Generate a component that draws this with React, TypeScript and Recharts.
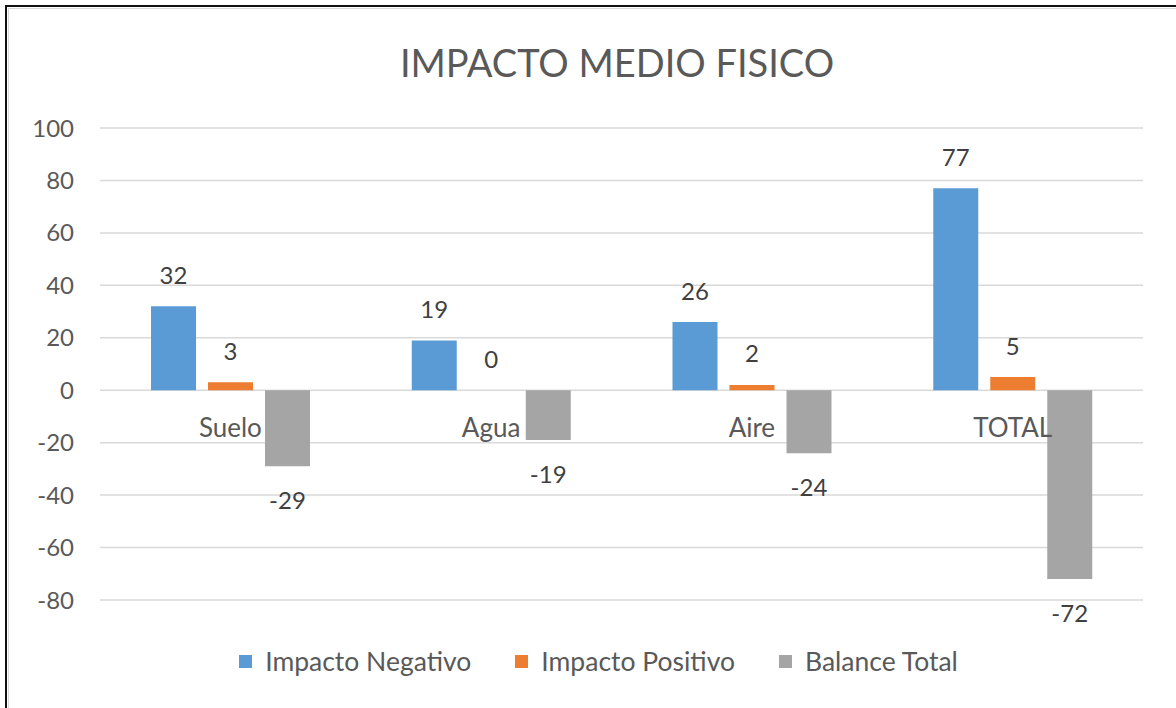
import { BarChart, Bar, XAxis, YAxis, CartesianGrid, Legend, LabelList } from 'recharts';

const categories = ['Suelo', 'Agua', 'Aire', 'TOTAL'];
const impactoNegativo = [32, 19, 26, 77];
const impactoPositivo = [3, 0, 2, 5];
const balanceTotal = [-29, -19, -24, -72];
const yTicks = [-80, -60, -40, -20, 0, 20, 40, 60, 80, 100];
const seriesNames = ['Impacto Negativo', 'Impacto Positivo', 'Balance Total'];

const chartData = categories.map((name, i) => ({
  name,
  negativo: impactoNegativo[i],
  positivo: impactoPositivo[i],
  balance: balanceTotal[i],
}));

const FONT = 'Lato, "Open Sans", sans-serif';
const W = 1176;
const H = 708;
const PLOT_TOP = 128;
const PLOT_BOTTOM = 600;
const Y_MIN = -80;
const Y_MAX = 100;
const ZERO_Y = PLOT_TOP + ((PLOT_BOTTOM - PLOT_TOP) * Y_MAX) / (Y_MAX - Y_MIN);

function ValueLabel(props: any) {
  const { x, y, width, height, value } = props;
  const top = Math.min(Number(y), Number(y) + Number(height));
  const bottom = Math.max(Number(y), Number(y) + Number(height));
  const cx = Number(x) + Number(width) / 2;
  const cy = value < 0 ? bottom + 33 : top - 32;
  return (
    <text x={cx} y={cy} textAnchor="middle" dominantBaseline="central" fill="#404040" fontSize={24} fontFamily={FONT}>
      {value}
    </text>
  );
}

function CategoryTick(props: any) {
  const { x, payload } = props;
  return (
    <text x={x} y={ZERO_Y + 37} textAnchor="middle" dominantBaseline="central" fill="#595959" fontSize={26} fontFamily={FONT}>
      {payload.value}
    </text>
  );
}

function LegendContent(props: any) {
  const items = [...(props.payload || [])].sort(
    (a: any, b: any) => seriesNames.indexOf(a.value) - seriesNames.indexOf(b.value)
  );
  return (
    <div style={{ display: 'flex', justifyContent: 'center', paddingLeft: 21, fontFamily: FONT, fontSize: 26.5, color: '#595959' }}>
      {items.map((item: any, i: number) => (
        <div key={item.value} style={{ display: 'flex', alignItems: 'center', marginRight: i < items.length - 1 ? 44 : 0 }}>
          <span style={{ display: 'inline-block', width: 13, height: 13, background: item.color, marginRight: 13 }} />
          <span>{item.value}</span>
        </div>
      ))}
    </div>
  );
}

export default function App() {
  return (
    <div style={{ position: 'absolute', left: 0, top: 0, width: W, height: H, overflow: 'hidden', background: '#fff' }}>
      <div style={{ position: 'absolute', left: 5, top: 5, width: W + 40, height: H + 40, border: '2px solid #111', boxSizing: 'border-box' }} />
      <div style={{ position: 'absolute', left: 8, top: 8, width: W + 40, height: H + 40, border: '1px solid #d9d9d9', boxSizing: 'border-box' }} />
      <div
        style={{
          position: 'absolute',
          left: 617,
          top: 37,
          transform: 'translateX(-50%)',
          whiteSpace: 'nowrap',
          fontFamily: FONT,
          fontSize: 38,
          color: '#595959',
          lineHeight: '50px',
        }}
      >
        IMPACTO MEDIO FISICO
      </div>
      <div style={{ position: 'absolute', left: 0, top: 0 }}>
        <BarChart
          width={W}
          height={H}
          data={chartData}
          margin={{ top: PLOT_TOP, right: 33, bottom: 77, left: 0 }}
          barSize={45}
          barGap={12}
        >
          <CartesianGrid vertical={false} stroke="#d9d9d9" strokeWidth={1.5} />
          <YAxis
            width={100}
            domain={[Y_MIN, Y_MAX]}
            ticks={yTicks}
            axisLine={false}
            tickLine={false}
            tickMargin={20}
            tick={{ fill: '#595959', fontSize: 24, fontFamily: FONT }}
          />
          <Bar dataKey="negativo" name={seriesNames[0]} fill="#5b9bd5" isAnimationActive={false}>
            <LabelList dataKey="negativo" content={ValueLabel} />
          </Bar>
          <Bar dataKey="positivo" name={seriesNames[1]} fill="#ed7d31" minPointSize={0.01} isAnimationActive={false}>
            <LabelList dataKey="positivo" content={ValueLabel} />
          </Bar>
          <Bar dataKey="balance" name={seriesNames[2]} fill="#a5a5a5" isAnimationActive={false}>
            <LabelList dataKey="balance" content={ValueLabel} />
          </Bar>
          <XAxis dataKey="name" height={1} axisLine={false} tickLine={false} tick={CategoryTick} interval={0} />
          <Legend
            height={30}
            content={LegendContent}
            wrapperStyle={{ top: 645, bottom: 'auto', left: 0, width: W }}
          />
        </BarChart>
      </div>
    </div>
  );
}
